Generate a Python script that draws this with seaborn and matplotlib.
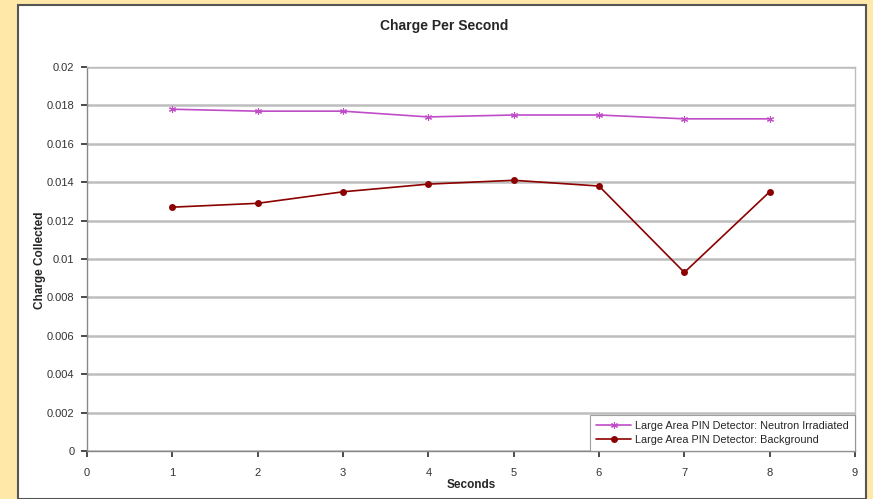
import matplotlib
matplotlib.use("Agg")
import matplotlib.pyplot as plt
import seaborn as sns
import pandas as pd
from matplotlib.patches import Rectangle

seconds = [1, 2, 3, 4, 5, 6, 7, 8]
neutron = [0.0178, 0.0177, 0.0177, 0.0174, 0.0175, 0.0175, 0.0173, 0.0173]
background = [0.0127, 0.0129, 0.0135, 0.0139, 0.0141, 0.0138, 0.0093, 0.0135]
series_names = ["Large Area PIN Detector: Neutron Irradiated",
                "Large Area PIN Detector: Background"]
y_ticks = [0, 0.002, 0.004, 0.006, 0.008, 0.01, 0.012, 0.014, 0.016, 0.018, 0.02]
y_tick_labels = ["0", "0.002", "0.004", "0.006", "0.008", "0.01", "0.012",
                 "0.014", "0.016", "0.018", "0.02"]
x_ticks = list(range(0, 10))

df_n = pd.DataFrame({"Seconds": seconds, "Charge": neutron})
df_b = pd.DataFrame({"Seconds": seconds, "Charge": background})

sns.set_theme(style="white")
plt.rcParams["font.family"] = ["Liberation Sans", "DejaVu Sans"]

fig = plt.figure(figsize=(8.73, 4.99), dpi=100)
fig.patch.set_facecolor("#FFE8A8")
panel = Rectangle((18 / 873, 0), (866 - 18) / 873, 1 - 5 / 499,
                  transform=fig.transFigure, facecolor="white",
                  edgecolor="#555555", linewidth=1.5, zorder=-10)
fig.patches.append(panel)

ax = fig.add_axes([87 / 873, 1 - 451 / 499, (855 - 87) / 873, (451 - 67) / 499])
ax.set_facecolor("white")

sns.lineplot(data=df_n, x="Seconds", y="Charge", color="#C04CC8",
             marker=(6, 2, 0), markersize=5, markeredgewidth=0.8,
             markeredgecolor="#C04CC8", linewidth=1.2, ax=ax,
             label=series_names[0])
sns.lineplot(data=df_b, x="Seconds", y="Charge", color="#8B0000",
             marker="o", markersize=5, markeredgewidth=0,
             linewidth=1.2, ax=ax, label=series_names[1])

ax.set_xlim(0, 9)
ax.set_ylim(0, 0.02)
ax.set_xticks(x_ticks)
ax.set_yticks(y_ticks)
ax.set_yticklabels(y_tick_labels)
ax.yaxis.grid(True, color="#BDBDBD", linewidth=1.8)
ax.set_axisbelow(True)
ax.tick_params(axis="both", labelsize=8, colors="#333333", length=4,
               direction="out", left=True, bottom=True, pad=5)
ax.tick_params(axis="x", pad=8)
for side in ["top", "right"]:
    ax.spines[side].set_color("#BDBDBD")
    ax.spines[side].set_linewidth(1.0)
for side in ["left", "bottom"]:
    ax.spines[side].set_color("#888888")
    ax.spines[side].set_linewidth(1.0)

ax.set_xlabel("Seconds", fontsize=8.5, fontweight="bold", labelpad=1)
ax.set_ylabel("")
fig.text(40 / 873, 1 - 260 / 499, "Charge Collected", rotation=90, fontsize=8.5,
         fontweight="bold", ha="center", va="center")
fig.text(444 / 873, 1 - 26 / 499, "Charge Per Second", fontsize=10,
         fontweight="bold", ha="center", va="center")

leg = ax.legend(loc="lower right", fontsize=7.8, frameon=True, fancybox=False,
                borderaxespad=0, handlelength=3.2, labelspacing=0.35,
                borderpad=0.55, handletextpad=0.4)
leg.get_frame().set_edgecolor("#888888")
leg.get_frame().set_linewidth(0.8)

fig.savefig("out.png", dpi=100, facecolor=fig.get_facecolor())
